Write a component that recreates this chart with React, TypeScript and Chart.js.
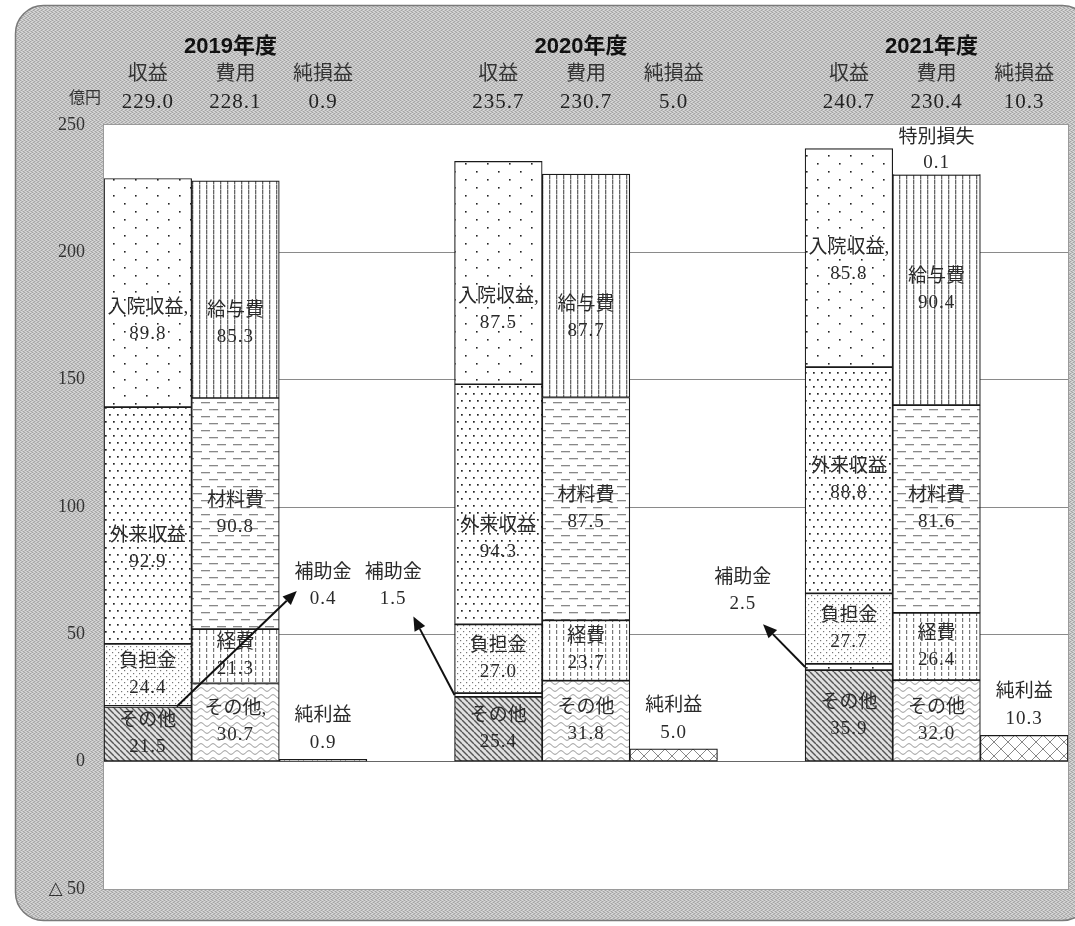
import React, { useEffect, useRef } from "react";
import { Chart, registerables } from "chart.js";
Chart.register(...registerables);

// ---------- data ----------
const YEARS = ["2019年度", "2020年度", "2021年度"];
const HEADER_COLS = ["収益", "費用", "純損益"];
const REV_TOTAL = [229.0, 235.7, 240.7];
const EXP_TOTAL = [228.1, 230.7, 230.4];
const NET_TOTAL = [0.9, 5.0, 10.3];

const REV_OTHER = [21.5, 25.4, 35.9];
const REV_SUBSIDY = [0.4, 1.5, 2.5];
const REV_BURDEN = [24.4, 27.0, 27.7];
const REV_OUTPATIENT = [92.9, 94.3, 88.8];
const REV_INPATIENT = [89.8, 87.5, 85.8];

const EXP_OTHER = [30.7, 31.8, 32.0];
const EXP_OVERHEAD = [21.3, 23.7, 26.4];
const EXP_MATERIAL = [90.8, 87.5, 81.6];
const EXP_SALARY = [85.3, 87.7, 90.4];
const EXP_SPECIAL: (number | null)[] = [null, null, 0.1];

const NET_PROFIT = [0.9, 5.0, 10.3];

const Y_MIN = -50;
const Y_MAX = 250;
const Y_STEP = 50;

const UNIT_LABEL = "億円";
const SUBSIDY_LABEL = "補助金";
const NET_LABEL = "純利益";
const SPECIAL_LABEL = "特別損失";

// 11 category slots: [rev, exp, net, gap] x 3 (last gap dropped)
const SLOT_COUNT = 11;
const SLOT_LABELS = Array.from({ length: SLOT_COUNT }, () => "");

type Series = {
  name: string;
  values: (number | null)[];
  slot: number; // 0 revenue, 1 expense, 2 net
  pattern: string;
  text: (string | null)[] | null;
};

const SERIES: Series[] = [
  { name: "収益その他", values: REV_OTHER, slot: 0, pattern: "revOther", text: ["その他", "その他", "その他"] },
  { name: "補助金", values: REV_SUBSIDY, slot: 0, pattern: "subsidy", text: null },
  { name: "負担金", values: REV_BURDEN, slot: 0, pattern: "burden", text: ["負担金", "負担金", "負担金"] },
  { name: "外来収益", values: REV_OUTPATIENT, slot: 0, pattern: "outpatient", text: ["外来収益", "外来収益", "外来収益"] },
  { name: "入院収益", values: REV_INPATIENT, slot: 0, pattern: "inpatient", text: ["入院収益,", "入院収益,", "入院収益,"] },
  { name: "費用その他", values: EXP_OTHER, slot: 1, pattern: "expOther", text: ["その他,", "その他", "その他"] },
  { name: "経費", values: EXP_OVERHEAD, slot: 1, pattern: "overhead", text: ["経費", "経費", "経費"] },
  { name: "材料費", values: EXP_MATERIAL, slot: 1, pattern: "material", text: ["材料費", "材料費", "材料費"] },
  { name: "給与費", values: EXP_SALARY, slot: 1, pattern: "salary", text: ["給与費", "給与費", "給与費"] },
  { name: "特別損失", values: EXP_SPECIAL, slot: 1, pattern: "special", text: null },
  { name: "純利益", values: NET_PROFIT, slot: 2, pattern: "net", text: null },
];

// label nudges in px (downwards) per series/year
const LABEL_NUDGE: Record<string, number[]> = {
  外来収益: [24, 35, 0],
  入院収益: [28, 37, 3],
  給与費: [35, 32, 0],
};

// subsidy arrows: tail x (slot units), tip (slot, value), label centre (slot, value)
const SUBSIDY_ARROWS = [
  { tailX: 0.33, tip: [1.7, 67], label: [2.0, 69] },
  { tailX: 3.5, tip: [3.03, 57], label: [2.8, 69] },
  { tailX: 7.5, tip: [7.02, 54], label: [6.79, 67] },
];

const SERIF = '"Liberation Serif", "DejaVu Serif", "Noto Sans CJK JP", serif';
const SANS = '"Liberation Sans", "Noto Sans CJK JP", sans-serif';

function place(values: (number | null)[], offset: number) {
  const arr: (number | null)[] = Array(SLOT_COUNT).fill(null);
  values.forEach((v, i) => (arr[4 * i + offset] = v));
  return arr;
}

function makePatterns(ctx: CanvasRenderingContext2D) {
  const tile = (w: number, h: number, draw: (g: CanvasRenderingContext2D) => void) => {
    const c = document.createElement("canvas");
    c.width = w;
    c.height = h;
    const g = c.getContext("2d")!;
    draw(g);
    return ctx.createPattern(c, "repeat")!;
  };
  const white = (g: CanvasRenderingContext2D, w: number, h: number, col = "#fff") => {
    g.fillStyle = col;
    g.fillRect(0, 0, w, h);
  };
  return {
    inpatient: tile(22, 16, (g) => {
      white(g, 22, 16);
      g.fillStyle = "#222";
      g.fillRect(3, 3, 1.6, 1.6);
      g.fillRect(14, 11, 1.6, 1.6);
    }),
    subsidy: tile(22, 16, (g) => {
      white(g, 22, 16);
      g.fillStyle = "#222";
      g.fillRect(3, 3, 1.6, 1.6);
      g.fillRect(14, 11, 1.6, 1.6);
    }),
    outpatient: tile(8, 14, (g) => {
      white(g, 8, 14);
      g.fillStyle = "#222";
      g.fillRect(1, 1, 1.7, 1.7);
      g.fillRect(5, 8, 1.7, 1.7);
    }),
    burden: tile(6, 6, (g) => {
      white(g, 6, 6);
      g.fillStyle = "#777";
      g.fillRect(1, 1, 1.2, 1.2);
      g.fillRect(4, 4, 1.2, 1.2);
    }),
    revOther: tile(6, 6, (g) => {
      white(g, 6, 6, "#e0e0e0");
      g.strokeStyle = "#555";
      g.lineWidth = 1.4;
      for (const x0 of [-6, 0, 6]) {
        g.beginPath();
        g.moveTo(x0, 0);
        g.lineTo(x0 + 6, 6);
        g.stroke();
      }
    }),
    salary: tile(7, 5, (g) => {
      white(g, 7, 5);
      g.fillStyle = "#666";
      g.fillRect(3, 0, 1.3, 4);
      g.fillStyle = "#aaa";
      g.fillRect(3, 4, 1.3, 1);
    }),
    overhead: tile(7, 6, (g) => {
      white(g, 7, 6);
      g.fillStyle = "#777";
      g.fillRect(3, 0, 1.2, 4);
    }),
    material: tile(16, 14, (g) => {
      white(g, 16, 14);
      g.fillStyle = "#888";
      g.fillRect(1, 3, 9, 1.3);
      g.fillRect(9, 10, 7, 1.3);
      g.fillRect(0, 10, 2, 1.3);
    }),
    expOther: tile(12, 7, (g) => {
      white(g, 12, 7);
      g.strokeStyle = "#888";
      g.lineWidth = 1;
      g.beginPath();
      for (let x = 0; x <= 12; x += 0.5) {
        const y = 3.5 + 1.8 * Math.sin((x / 12) * Math.PI * 2);
        if (x === 0) g.moveTo(x, y);
        else g.lineTo(x, y);
      }
      g.stroke();
    }),
    net: tile(14, 14, (g) => {
      white(g, 14, 14);
      g.strokeStyle = "#888";
      g.lineWidth = 1;
      g.beginPath();
      g.moveTo(0, 0);
      g.lineTo(14, 14);
      g.moveTo(14, 0);
      g.lineTo(0, 14);
      g.stroke();
    }),
    special: tile(4, 4, (g) => white(g, 4, 4)),
  } as Record<string, CanvasPattern>;
}

function makeDither(ctx: CanvasRenderingContext2D) {
  const c = document.createElement("canvas");
  c.width = 4;
  c.height = 4;
  const g = c.getContext("2d")!;
  g.fillStyle = "#c2c2c2";
  g.fillRect(0, 0, 4, 4);
  g.fillStyle = "#a4a4a4";
  [[0, 0], [2, 1], [1, 2], [3, 3]].forEach(([x, y]) => g.fillRect(x, y, 1, 1));
  g.fillStyle = "#dadada";
  [[2, 0], [0, 1], [3, 2], [1, 3]].forEach(([x, y]) => g.fillRect(x, y, 1, 1));
  return ctx.createPattern(c, "repeat")!;
}

export default function App() {
  const ref = useRef<HTMLCanvasElement>(null);

  useEffect(() => {
    const canvas = ref.current!;
    const ctx0 = canvas.getContext("2d")!;
    const patterns = makePatterns(ctx0);
    const dither = makeDither(ctx0);

    const datasets = SERIES.map((s) => ({
      label: s.name,
      data: place(s.values, s.slot),
      backgroundColor: patterns[s.pattern],
      borderColor: "#1a1a1a",
      borderWidth: 1.2,
      borderSkipped: false as const,
      barPercentage: 1,
      categoryPercentage: 1,
    }));

    const framePlugin = {
      id: "frame",
      beforeDraw(chart: any) {
        const { ctx, chartArea } = chart;
        ctx.save();
        ctx.beginPath();
        ctx.roundRect(15.5, 5.5, 1075, 915, 28);
        ctx.fillStyle = dither;
        ctx.fill();
        ctx.strokeStyle = "#7a7a7a";
        ctx.lineWidth = 1.5;
        ctx.stroke();
        ctx.fillStyle = "#fff";
        ctx.fillRect(chartArea.left, chartArea.top, chartArea.right - chartArea.left, chartArea.bottom - chartArea.top);
        ctx.strokeStyle = "#9a9a9a";
        ctx.lineWidth = 1;
        ctx.strokeRect(chartArea.left - 0.5, chartArea.top - 0.5, chartArea.right - chartArea.left + 1, chartArea.bottom - chartArea.top + 1);
        ctx.restore();
      },
    };

    const labelPlugin = {
      id: "labels",
      afterDraw(chart: any) {
        const { ctx } = chart;
        const xs = chart.scales.x;
        const ys = chart.scales.y;
        const slotW = (xs.right - xs.left) / SLOT_COUNT;
        const sx = (s: number) => xs.left + slotW * (s + 0.5);
        ctx.save();
        ctx.textAlign = "center";
        ctx.textBaseline = "middle";
        ctx.fillStyle = "#222";

        // headers
        YEARS.forEach((yr, i) => {
          ctx.font = `bold 22px ${SANS}`;
          ctx.letterSpacing = "0px";
          ctx.fillStyle = "#111";
          ctx.fillText(yr, sx(4 * i + 1) - 5, 47);
          const vals = [REV_TOTAL[i], EXP_TOTAL[i], NET_TOTAL[i]];
          HEADER_COLS.forEach((h, j) => {
            ctx.font = `20px ${SERIF}`;
            ctx.letterSpacing = "0px";
            ctx.fillStyle = "#333";
            ctx.fillText(h, sx(4 * i + j), 75);
            ctx.font = `21px ${SERIF}`;
            ctx.letterSpacing = "1px";
            ctx.fillStyle = "#222";
            ctx.fillText(vals[j].toFixed(1), sx(4 * i + j), 102);
          });
        });
        ctx.letterSpacing = "0px";
        ctx.font = `16px ${SERIF}`;
        ctx.fillStyle = "#333";
        ctx.fillText(UNIT_LABEL, 85, 99);

        // inner labels
        ctx.font = `19px ${SERIF}`;
        ctx.fillStyle = "#2a2a2a";
        SERIES.forEach((s, di) => {
          if (!s.text) return;
          const meta = chart.getDatasetMeta(di);
          s.values.forEach((v, i) => {
            if (v == null) return;
            const el = meta.data[4 * i + s.slot];
            const nudge = (LABEL_NUDGE[s.name] || [0, 0, 0])[i];
            const cy = (el.y + el.base) / 2 + nudge;
            ctx.fillText(s.text![i] || "", el.x, cy - 13);
            ctx.letterSpacing = "1px";
            ctx.fillText(v.toFixed(1), el.x, cy + 13);
            ctx.letterSpacing = "0px";
          });
        });

        // net profit labels above bars
        const netIdx = SERIES.findIndex((s) => s.name === "純利益");
        const netMeta = chart.getDatasetMeta(netIdx);
        NET_PROFIT.forEach((v, i) => {
          const el = netMeta.data[4 * i + 2];
          const top = Math.min(el.y, el.base);
          ctx.fillText(NET_LABEL, el.x, top - 43);
          ctx.letterSpacing = "1px";
          ctx.fillText(v.toFixed(1), el.x, top - 16);
          ctx.letterSpacing = "0px";
        });

        // special loss label
        const spIdx = SERIES.findIndex((s) => s.name === "特別損失");
        const spMeta = chart.getDatasetMeta(spIdx);
        EXP_SPECIAL.forEach((v, i) => {
          if (v == null) return;
          const el = spMeta.data[4 * i + 1];
          const top = Math.min(el.y, el.base);
          ctx.fillText(SPECIAL_LABEL, el.x, top - 37);
          ctx.letterSpacing = "1px";
          ctx.fillText(v.toFixed(1), el.x, top - 12);
          ctx.letterSpacing = "0px";
        });

        // subsidy arrows
        SUBSIDY_ARROWS.forEach((a, i) => {
          const tailY = ys.getPixelForValue(REV_OTHER[i] + REV_SUBSIDY[i] / 2);
          const tailX = sx(a.tailX);
          const tipX = sx(a.tip[0]);
          const tipY = ys.getPixelForValue(a.tip[1]);
          ctx.strokeStyle = "#111";
          ctx.lineWidth = 2;
          const ang = Math.atan2(tipY - tailY, tipX - tailX);
          const hl = 14;
          const hw = 6;
          const bx = tipX - hl * Math.cos(ang);
          const by = tipY - hl * Math.sin(ang);
          ctx.beginPath();
          ctx.moveTo(tailX, tailY);
          ctx.lineTo(bx, by);
          ctx.stroke();
          ctx.fillStyle = "#111";
          ctx.beginPath();
          ctx.moveTo(tipX, tipY);
          ctx.lineTo(bx + hw * Math.sin(ang), by - hw * Math.cos(ang));
          ctx.lineTo(bx - hw * Math.sin(ang), by + hw * Math.cos(ang));
          ctx.closePath();
          ctx.fill();
          ctx.fillStyle = "#2a2a2a";
          const lx = sx(a.label[0]);
          const ly = ys.getPixelForValue(a.label[1]);
          ctx.fillText(SUBSIDY_LABEL, lx, ly - 13);
          ctx.letterSpacing = "1px";
          ctx.fillText(REV_SUBSIDY[i].toFixed(1), lx, ly + 13);
          ctx.letterSpacing = "0px";
        });
        ctx.restore();
      },
    };

    const chart = new Chart(canvas, {
      type: "bar",
      data: { labels: SLOT_LABELS, datasets },
      options: {
        responsive: false,
        animation: false,
        layout: { padding: { top: 125, bottom: 37, left: 0, right: 7 } },
        plugins: { legend: { display: false }, tooltip: { enabled: false }, title: { display: false } },
        scales: {
          x: { display: false, stacked: true, offset: true },
          y: {
            stacked: true,
            min: Y_MIN,
            max: Y_MAX,
            afterFit(scale: any) {
              scale.width = 104;
            },
            ticks: {
              stepSize: Y_STEP,
              padding: 19,
              color: "#333",
              font: { family: SERIF, size: 18 },
              callback: (v: any) => (Number(v) < 0 ? "△ " + Math.abs(Number(v)) : String(v)),
            },
            grid: {
              drawTicks: false,
              color: (c: any) => {
                const v = c.tick?.value;
                if (v === Y_MIN || v === Y_MAX) return "rgba(0,0,0,0)";
                if (v === 0) return "#666";
                return "#8a8a8a";
              },
              lineWidth: 1,
            },
            border: { display: false },
          },
        },
      },
      plugins: [framePlugin, labelPlugin],
    });
    return () => chart.destroy();
  }, []);

  return (
    <div style={{ position: "absolute", left: 0, top: 0, width: 1075, height: 926, overflow: "hidden" }}>
      <canvas ref={ref} width={1075} height={926} style={{ display: "block" }} />
    </div>
  );
}
